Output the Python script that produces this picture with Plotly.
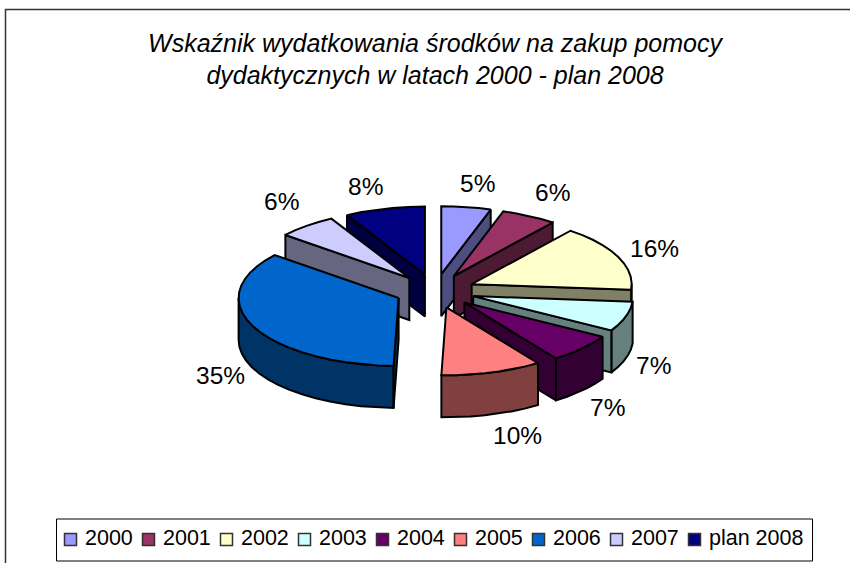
import math
import plotly.graph_objects as go

categories = ["2000", "2001", "2002", "2003", "2004", "2005", "2006", "2007", "plan 2008"]
values = [5.0, 5.6, 15.7, 7.1, 6.9, 10.2, 35.4, 6.0, 8.1]
top_colors = ["#9999FF", "#993366", "#FFFFCC", "#CCFFFF", "#660066", "#FF8080", "#0066CC", "#CCCCFF", "#000080"]
side_colors = ["#4D4D80", "#4D1A33", "#808066", "#668080", "#330033", "#804040", "#003366", "#666680", "#000040"]
title_lines = ["Wskaźnik wydatkowania środków na zakup pomocy", "dydaktycznych w latach 2000 - plan 2008"]

# projection of the tilted pie onto the page
CX, CY, RX, RY, DEPTH, PULL = 435, 291, 160, 68, 42, 40
LABEL_POS = [(477, 183), (552, 192), (654, 248), (653, 365), (607, 407), (517, 435), (220, 375), (281, 201), (365, 186)]
LEG_X0, LEG_STEP, LEG_Y, LEG_TEXT_Y = 70.5, 78, 539.5, 538
BLACK = "#000000"
TXT = "Liberation Sans"


def pt(ax, ay, deg, drop=0.0):
    r = math.radians(deg)
    return ax + RX * math.sin(r), ay - RY * math.cos(r) + drop


def arc(ax, ay, a0, a1, drop=0.0):
    n = max(2, int(abs(a1 - a0) / 6) + 1)
    return [pt(ax, ay, a0 + (a1 - a0) * i / n, drop) for i in range(n + 1)]


def poly(points, color):
    xs = [p[0] for p in points] + [points[0][0]]
    ys = [p[1] for p in points] + [points[0][1]]
    return go.Scatter(x=xs, y=ys, mode="lines", fill="toself", fillcolor=color,
                      line=dict(color=BLACK, width=2), hoverinfo="skip", showlegend=False)


total = sum(values)
slices = []
acc = 0.0
for i, v in enumerate(values):
    a0 = acc / total * 360
    acc += v
    a1 = acc / total * 360
    mid = math.radians((a0 + a1) / 2)
    ax = CX + PULL * math.sin(mid)
    ay = CY - PULL * RY / RX * math.cos(mid)
    slices.append((ay, i, ax, a0, a1))

fig = go.Figure()
for ay, i, ax, a0, a1 in sorted(slices):
    side = side_colors[i]
    # outer wall, front half only
    lo, hi = max(a0, 90), min(a1, 270)
    if hi > lo:
        fig.add_trace(poly(arc(ax, ay, lo, hi) + arc(ax, ay, hi, lo, DEPTH), side))
    # cut faces that look towards the viewer
    for ang, seen in ((a0, math.sin(math.radians(a0)) < -1e-6), (a1, math.sin(math.radians(a1)) > 1e-6)):
        if seen:
            fig.add_trace(poly([(ax, ay), pt(ax, ay, ang), pt(ax, ay, ang, DEPTH), (ax, ay + DEPTH)], side))
    # top face
    fig.add_trace(poly([(ax, ay)] + arc(ax, ay, a0, a1), top_colors[i]))

# legend row
shapes = [
    dict(type="line", x0=5, x1=850, y0=9.5, y1=9.5, layer="below", line=dict(color="#333333", width=1.5)),
    dict(type="line", x0=5.5, x1=5.5, y0=9, y1=563, layer="below", line=dict(color="#333333", width=1.5)),
    dict(type="rect", x0=56.5, x1=812.5, y0=519, y1=561, layer="below", line=dict(color=BLACK, width=1), fillcolor="white"),
]
annotations = []
for i, name in enumerate(categories):
    mx = LEG_X0 + i * LEG_STEP
    fig.add_trace(go.Scatter(x=[mx], y=[LEG_Y], mode="markers", hoverinfo="skip", showlegend=False, cliponaxis=False,
                             marker=dict(symbol="square", size=12, color=top_colors[i], line=dict(color="#333333", width=1.5))))
    annotations.append(dict(x=mx + 12.5, y=LEG_TEXT_Y, text=name, showarrow=False, xanchor="left", yanchor="middle",
                            font=dict(family=TXT, size=21.5, color=BLACK)))

for i, v in enumerate(values):
    annotations.append(dict(x=LABEL_POS[i][0], y=LABEL_POS[i][1], text=f"{round(v)}%", showarrow=False,
                            font=dict(family=TXT, size=24.5, color=BLACK)))

fig.update_layout(
    width=850, height=563, margin=dict(l=0, r=0, t=0, b=0), autosize=False,
    paper_bgcolor="white", plot_bgcolor="white", showlegend=False,
    title=dict(text="<br>".join(title_lines), x=435 / 850, xanchor="center", y=1 - 51.5 / 563, yanchor="top",
               font=dict(family=TXT, size=25, color=BLACK, style="italic")),
    xaxis=dict(range=[0, 850], visible=False, fixedrange=True),
    yaxis=dict(range=[563, 0], visible=False, fixedrange=True),
    shapes=shapes, annotations=annotations,
)
fig.write_html("out.html", config={"displayModeBar": False}, post_script="document.body.style.margin='0';")
